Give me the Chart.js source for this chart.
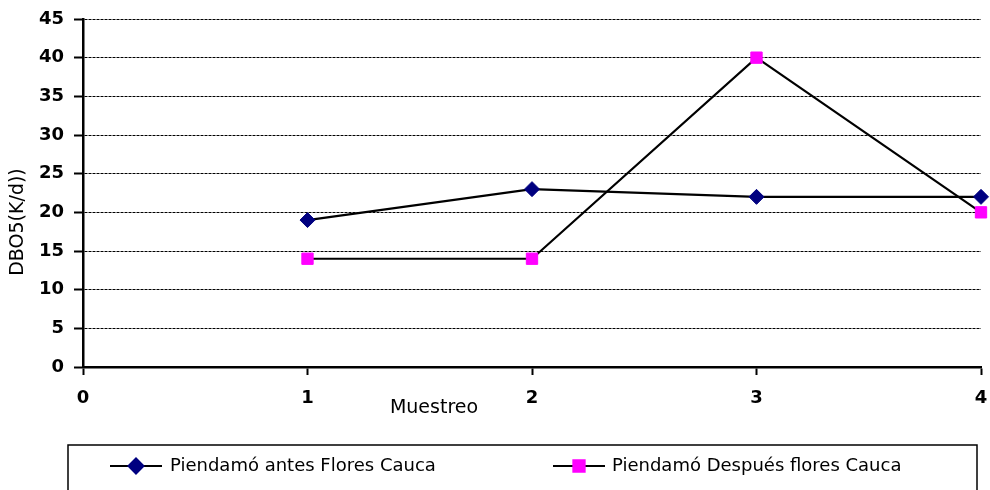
<!DOCTYPE html>
<html><head><meta charset="utf-8">
<script src="https://cdn.jsdelivr.net/npm/chart.js@4"></script>
<style>html,body{margin:0;padding:0;background:#fff}#wrap{width:990px;height:490px}</style>
</head><body><div id="wrap"><canvas id="c" width="990" height="490"></canvas></div>
<script>
const muestreo = [1, 2, 3, 4];
const antesFlores = [19, 23, 22, 22];
const despuesFlores = [14, 14, 40, 20];
const seriesNames = ['Piendamó antes Flores Cauca', 'Piendamó Después flores Cauca'];
const xTitle = 'Muestreo';
const yTitle = 'DBO5(K/d))';

const FONT = '"DejaVu Sans", Verdana, sans-serif';

const titlesPlugin = {
  id: 'titles',
  afterDraw(chart) {
    const ctx = chart.ctx;
    ctx.save();
    ctx.fillStyle = '#000';
    ctx.font = '19px ' + FONT;
    ctx.textAlign = 'center';
    ctx.textBaseline = 'middle';
    ctx.fillText(xTitle, 434, 408);
    ctx.translate(18, 222);
    ctx.rotate(-Math.PI / 2);
    ctx.fillText(yTitle, 0, 0);
    ctx.restore();
  }
};

const legendPlugin = {
  id: 'boxLegend',
  afterDraw(chart) {
    const ctx = chart.ctx;
    ctx.save();
    ctx.strokeStyle = '#000';
    ctx.lineWidth = 1.5;
    ctx.strokeRect(68, 445, 909, 70);
    const items = [
      {x1: 110, x2: 162, text: 170},
      {x1: 553, x2: 605, text: 612}
    ];
    const y = 466;
    chart.data.datasets.forEach((ds, i) => {
      const it = items[i];
      ctx.strokeStyle = '#000';
      ctx.lineWidth = 2;
      ctx.beginPath();
      ctx.moveTo(it.x1, y);
      ctx.lineTo(it.x2, y);
      ctx.stroke();
      ctx.fillStyle = ds.pointBackgroundColor;
      ctx.strokeStyle = ds.pointBorderColor;
      Chart.helpers.drawPoint(ctx, {pointStyle: ds.pointStyle, radius: ds.pointRadius, rotation: 0, borderWidth: 1}, (it.x1 + it.x2) / 2, y);
      ctx.fillStyle = '#000';
      ctx.font = '18px ' + FONT;
      ctx.textAlign = 'left';
      ctx.textBaseline = 'middle';
      ctx.fillText(ds.label, it.text, y);
    });
    ctx.restore();
  }
};

function clearPad(s) {
  s.paddingLeft = 0; s.paddingRight = 0; s.paddingTop = 0; s.paddingBottom = 0;
}

new Chart(document.getElementById('c'), {
  type: 'line',
  data: {
    datasets: [
      {
        label: seriesNames[0],
        data: muestreo.map((m, i) => ({x: m, y: antesFlores[i]})),
        borderColor: '#000',
        borderWidth: 2.2,
        pointStyle: 'rectRot',
        pointRadius: 7.5,
        pointHoverRadius: 7.5,
        pointBackgroundColor: '#000080',
        pointBorderColor: '#000080',
        pointBorderWidth: 1,
        tension: 0,
        clip: false
      },
      {
        label: seriesNames[1],
        data: muestreo.map((m, i) => ({x: m, y: despuesFlores[i]})),
        borderColor: '#000',
        borderWidth: 2.2,
        pointStyle: 'rect',
        pointRadius: 8,
        pointHoverRadius: 8,
        pointBackgroundColor: '#FF00FF',
        pointBorderColor: '#FF00FF',
        pointBorderWidth: 1,
        tension: 0,
        clip: false
      }
    ]
  },
  options: {
    responsive: false,
    animation: false,
    devicePixelRatio: 1,
    layout: {padding: {top: 19, right: 9, bottom: 0, left: 0}},
    plugins: {legend: {display: false}, tooltip: {enabled: false}},
    scales: {
      x: {
        type: 'linear',
        min: 0, max: 4,
        ticks: {stepSize: 1, color: '#000', font: {family: FONT, size: 18, weight: 'bold'}, padding: 13, maxRotation: 0},
        grid: {drawOnChartArea: false, drawTicks: true, tickLength: 8, tickColor: '#000', tickWidth: 2},
        border: {display: true, color: '#000', width: 2.5},
        afterFit(s) { s.height = 123; clearPad(s); }
      },
      y: {
        min: 0, max: 45,
        ticks: {stepSize: 5, color: '#000', font: {family: FONT, size: 18, weight: 'bold'}, padding: 10},
        grid: {color: '#000', lineWidth: 1, drawTicks: true, tickLength: 9, tickColor: '#000', tickWidth: 2},
        border: {display: true, color: '#000', width: 2.5, dash: [3, 1]},
        afterFit(s) { s.width = 83; clearPad(s); }
      }
    }
  },
  plugins: [titlesPlugin, legendPlugin]
});
</script>
</body></html>
